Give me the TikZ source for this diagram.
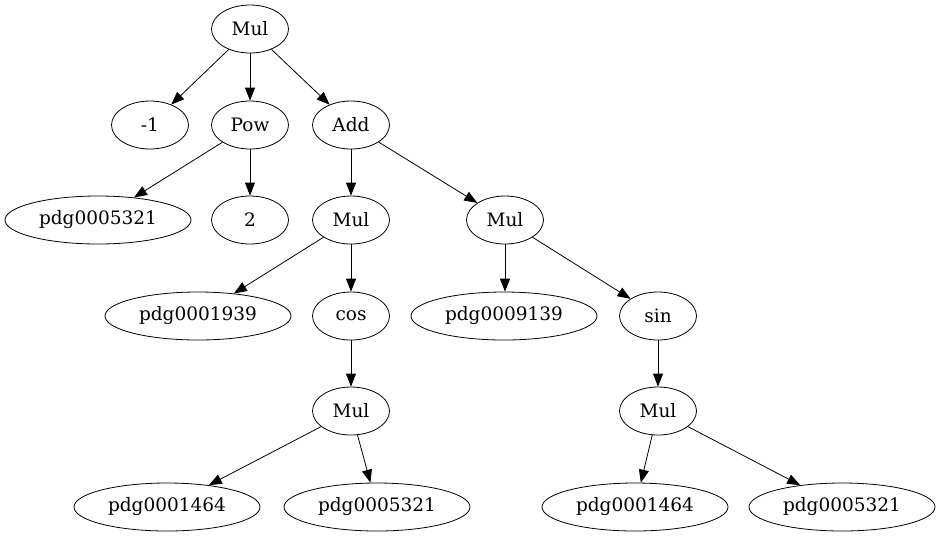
\documentclass[tikz,border=0pt]{standalone}
\usepackage{fontspec}
\setmainfont{DejaVu Serif}
\usetikzlibrary{shapes.geometric}
\usetikzlibrary{arrows.meta}

\begin{document}
\begin{tikzpicture}[
      x=1pt, y=-1pt, >={Triangle[length=13pt,width=10pt]},
      op/.style={ellipse, draw, line width=0.8pt, inner sep=0pt, minimum height=48pt, minimum width=77pt},
      leaf/.style={op, minimum width=186pt},
      every node/.style={font=\fontsize{18.5}{20}\selectfont}]
      \useasboundingbox (0,0) rectangle (941,539);

      % operators
      \foreach \nm/\x/\y/\lab in {m0/250/29/Mul, neg/150/125/-1, pow/250/125/Pow, add/351/125/Add,
          two/250/220/2, m1/351/220/Mul, m2/505/220/Mul, cosn/351/316/cos, sinn/658/316/sin,
          m3/351/411/Mul, m4/658/411/Mul}{
        \node[op] (\nm) at (\x,\y) {\lab};
      }
      % variables
      \foreach \nm/\x/\y/\lab in {p1/98/220/pdg0005321, d1/198/316/pdg0001939, d2/504/316/pdg0009139,
          d3/167/507/pdg0001464, d4/377/507/pdg0005321, d5/635/507/pdg0001464, d6/842/507/pdg0005321}{
        \node[leaf] (\nm) at (\x,\y) {\lab};
      }
      % edges
      \foreach \a/\b in {m0/neg, m0/pow, m0/add, pow/p1, pow/two, add/m1, add/m2, m1/d1, m1/cosn,
          m2/sinn, cosn/m3, sinn/m4, m3/d3, m3/d4, m4/d5, m4/d6}{
        \draw[->, line width=0.8pt] (\a) -- (\b);
      }
      \draw[->, line width=0.8pt] (m2.south) -- (m2.south |- d2.north);
    \end{tikzpicture}
\end{document}
